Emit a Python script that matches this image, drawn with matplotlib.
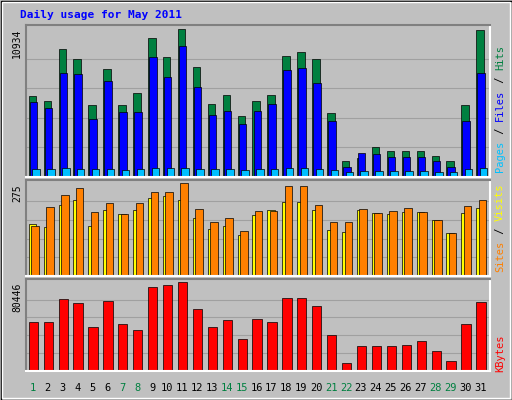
import matplotlib
matplotlib.use("Agg")
import matplotlib.pyplot as plt
from matplotlib.patches import Rectangle

days = list(range(1, 32))
weekend = [1, 7, 8, 14, 15, 21, 22, 28, 29]
hits = [6026,5654,9449,8779,5357,8035,5357,6250,10267,8928,10934,8184,5431,6101,4538,5654,
        6101,9002,9226,8779,4762,1190,1414,2232,1934,1934,1934,1562,1190,5357,10862]
files = [5580,5134,7738,7663,4315,7142,4836,4836,8928,7440,9672,6696,4613,4910,3943,4910,
         5431,7961,8110,6994,4166,744,1786,1711,1488,1488,1488,1190,744,4166,7738]
pages = [620,580,640,610,560,600,540,560,650,640,700,600,560,580,520,580,
         590,660,640,610,540,380,420,450,430,430,430,400,380,600,640]
visits = [152,146,209,224,149,194,182,194,230,236,224,170,140,149,120,179,
          194,218,218,194,135,129,194,185,182,188,188,164,126,185,200]
sites = [149,203,239,260,188,215,182,215,248,248,275,197,158,170,132,191,
         191,266,266,209,158,158,197,185,191,200,188,164,126,206,224]
kbytes = [43964,43964,64543,60801,39287,62672,42093,36481,75767,77638,80446,56124,39287,45835,
          28997,46770,43964,65478,65478,58930,32739,7483,22450,22450,22450,23385,27127,17773,
          9354,42093,61736]

W, H = 512, 400
BG = "#C0C0C0"
fig = plt.figure(figsize=(W/100, H/100), dpi=100, facecolor=BG)
mono = "DejaVu Sans Mono"

def fr(x0, y0, x1, y1):
    return [x0/W, 1-y1/H, (x1-x0)/W, (y1-y0)/H]

fig.patches.append(Rectangle((0.5/W, 0.5/H), 1-1/W, 1-1/H, transform=fig.transFigure,
                             fill=False, ec="black", lw=1))
fig.patches.append(Rectangle((2/W, 2/H), 1-4/W, 1-4/H, transform=fig.transFigure,
                             fill=False, ec="white", lw=1))
fig.text(20/W, 1-15/H, "Daily usage for May 2011", color="#0000FF", fontsize=8,
         fontweight="bold", family=mono, va="center")

x0, x1 = 26, 490
panels = [(25, 177), (180, 276), (279, 371)]
axes = []
for (ya, yb) in panels:
    ax = fig.add_axes(fr(x0, ya, x1, yb))
    ax.set_facecolor(BG)
    ax.set_xlim(0.7, 31.8)
    ax.set_xticks([]); ax.set_yticks([])
    for s, c in zip(["left", "top", "right", "bottom"], ["#808080", "#808080", "white", "white"]):
        ax.spines[s].set_color(c); ax.spines[s].set_linewidth(1.5)
    axes.append(ax)

def grid(ax, top):
    for f in (0.2, 0.4, 0.6, 0.8):
        ax.axhline(top*f, color="#A0A0A0", lw=0.8, zorder=0)
    ax.set_ylim(0, top*1.03)

a1, a2, a3 = axes
grid(a1, max(hits)); grid(a2, max(sites)); grid(a3, max(kbytes))
X = days
a1.bar([d-0.12 for d in X], hits, width=0.5, color="#008040", ec="black", lw=0.5, align="edge")
a1.bar([d-0.05 for d in X], files, width=0.5, color="#0000FF", ec="black", lw=0.5, align="edge")
a1.bar([d+0.12 for d in X], pages, width=0.5, color="#00C0FF", ec="black", lw=0.5, align="edge")
a2.bar([d-0.12 for d in X], visits, width=0.5, color="#FFFF00", ec="black", lw=0.5, align="edge")
a2.bar([d+0.05 for d in X], sites, width=0.5, color="#FF8000", ec="black", lw=0.5, align="edge")
a3.bar([d-0.12 for d in X], kbytes, width=0.62, color="#FF0000", ec="black", lw=0.5, align="edge")

for (ya, yb), lab in zip(panels, ["10934", "275", "80446"]):
    fig.text(17/W, 1-(ya+4)/H, lab, rotation=90, fontsize=7, family=mono, va="top",
             ha="center", color="black")

for d in days:
    xp = x0 + (d-0.7+0.15)/(31.1)*(x1-x0)
    fig.text(xp/W, 1-388/H, str(d), fontsize=7.5, family=mono, ha="center", va="center",
             color="#008040" if d in weekend else "black")

cw = 6.4
def vlabel(ybot, parts):
    y = ybot
    for txt, col in parts:
        fig.text(500/W, 1-y/H, txt, rotation=90, fontsize=7.5, family=mono,
                 color=col, ha="center", va="bottom")
        y -= len(txt)*cw
vlabel(172, [("Pages", "#00C0FF"), (" / ", "black"), ("Files", "#0000FF"), (" / ", "black"), ("Hits", "#008040")])
vlabel(272, [("Sites", "#FF8000"), (" / ", "black"), ("Visits", "#FFFF00")])
vlabel(372, [("KBytes", "#FF0000")])

fig.savefig("out.png", dpi=100, facecolor=BG)
